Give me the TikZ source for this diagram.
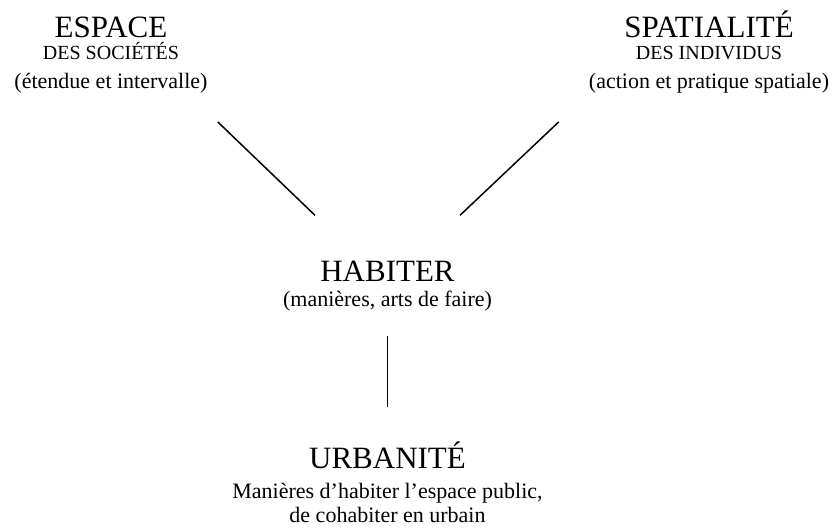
\documentclass[tikz,border=0pt]{standalone}
\usepackage{fontspec}
\setmainfont{Liberation Serif}
\tikzset{
    titre/.style={font=\fontsize{31}{31}\selectfont, anchor=base, inner sep=0pt},
    capitales/.style={font=\fontsize{20}{20}\selectfont, anchor=base, inner sep=0pt},
    soustitre/.style={font=\fontsize{22}{22}\selectfont, anchor=base, inner sep=0pt},
    trait/.style={line width=1.5pt}
}

\begin{document}
\begin{tikzpicture}[x=1pt, y=1pt]
    \useasboundingbox(0, 0)rectangle(838, 529);
    % haut gauche
    \node[titre](espace1) at(111, 491){ESPACE};
    \node[capitales](espace2) at(111, 469){DES SOCIÉTÉS};
    \node[soustitre](espace3) at(111, 440){(étendue et intervalle)};
    % haut droite
    \node[titre](spatial1) at(709, 491){SPATIALITÉ};
    \node[capitales](spatial2) at(709, 469){DES INDIVIDUS};
    \node[soustitre](spatial3) at(709, 440){(action et pratique spatiale)};
    % centre
    \node[titre](habiter1) at(387.5, 247){HABITER};
    \node[soustitre](habiter2) at(387.5, 222){(manières, arts de faire)};
    % bas
    \node[titre](urbanite1) at(387.5, 60){URBANITÉ};
    \node[soustitre](urbanite2) at(387.5, 30){Manières d’habiter l’espace public,};
    \node[soustitre](urbanite3) at(387.5, 6){de cohabiter en urbain};
    % traits
    \draw[trait]([shift={(10, -28)}]espace3.south east)--([shift={(-72.5, 46)}]habiter1.north);
    \draw[trait]([shift={(-30, -28)}]spatial3.south west)--([shift={(72.5, 46)}]habiter1.north);
    \draw[trait]([yshift=-24.5]habiter2.south)--([yshift=35]urbanite1.north);
\end{tikzpicture}
\end{document}
